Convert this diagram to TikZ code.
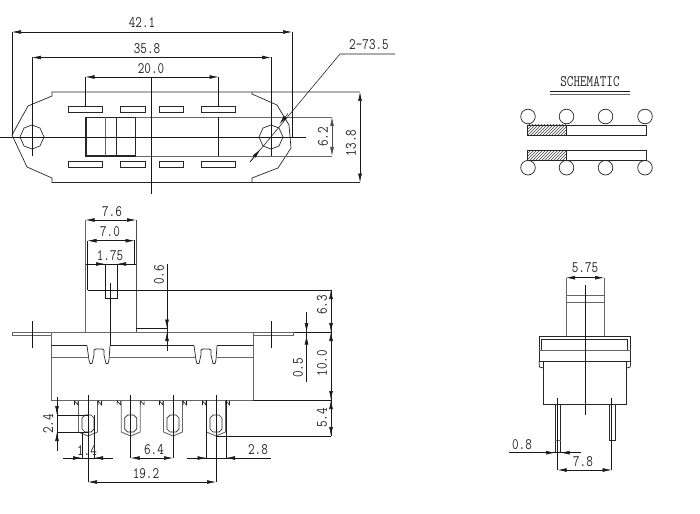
\documentclass[tikz,border=0pt]{standalone}
\usepackage{fontspec}
\usetikzlibrary{arrows.meta,patterns}
\newfontfamily\cadfont[FakeStretch=0.8]{Latin Modern Mono}
\tikzset{
  x=1pt,y=-1pt,
  thinl/.style={draw=black!90,line width=0.55pt},
  bodyl/.style={draw=black!60,line width=0.9pt},
  outl/.style={draw=black!85,line width=0.7pt},
  dimboth/.style={thinl,{Latex[length=9pt,width=3.8pt]}-{Latex[length=9pt,width=3.8pt]}},
  dimtip/.style={thinl,-{Latex[length=9pt,width=3.8pt]}},
  lbl/.style={font=\cadfont\fontsize{16}{16}\selectfont,text=black!85,inner sep=0pt},
  vlbl/.style={lbl,rotate=90},
}
\begin{document}
\begin{tikzpicture}
\useasboundingbox[fill=white] (0,0) rectangle (700,513);
% ---------- TOP VIEW ----------
\draw[outl] (360,92) -- (52,92) -- (52,96) -- (28,106) -- (12,135) -- (27,167) -- (52,178) -- (52,182.5) -- (360,182.5);
\draw[outl] (252,92) -- (252,94) -- (277,105) -- (289,125) -- (291,148) -- (278,168) -- (252,178) -- (252,182.5);
\foreach \xa/\xb in {68.5/102.5,120.5/145,159/183,201.5/235}{
  \draw[outl] (\xa,106.5) rectangle (\xb,112.5);
  \draw[outl] (\xa,161.5) rectangle (\xb,167.5);
}
\foreach \cx in {32,271}{
  \draw[outl] (\cx+12,137) -- (\cx+8,128) -- (\cx,125) -- (\cx-8,128) -- (\cx-12,137) -- (\cx-8,146) -- (\cx,149) -- (\cx+8,146) -- cycle;
}
\draw[bodyl] (135,117) -- (332,117);
\draw[bodyl] (135,156) -- (332,156);
\draw[draw=black!85,line width=1.2pt] (86,117.5) rectangle (135.5,156);
\draw[bodyl] (105,117.5) -- (105,156);
\draw[outl] (116,117.5) -- (116,156);
\draw[thinl] (0,137) -- (306,137);
\draw[thinl] (151.5,77) -- (151.5,194);
\draw[thinl] (12,32) -- (12,135);
\draw[thinl] (292,32) -- (292,137);
\draw[thinl] (32,57.5) -- (32,156);
\draw[thinl] (271,57.5) -- (271,156);
\draw[thinl] (85.5,77) -- (85.5,107);
\draw[thinl] (218.5,77) -- (218.5,107);
\draw[thinl] (218.5,117) -- (218.5,156);
\draw[dimboth] (12,32) -- (292,32);
\draw[dimboth] (32,57.5) -- (271,57.5);
\draw[dimboth] (85.5,77) -- (218.5,77);
\draw[dimboth,draw=black!70] (332,117) -- (332,156);
\draw[dimboth] (360,92) -- (360,182.5);
\draw[thinl] (250,162) -- (340,54) -- (395,54);
\draw[dimtip] (288,113.5) -- (279.5,124);
\draw[dimtip] (250,162) -- (260,149.5);
\node[lbl] (t421) at (142,23) {42.1};
\node[lbl] (t358) at (147,49) {35.8};
\node[lbl] (t200) at (151,69) {20.0};
\node[lbl] (t735) at (369,45) {2-73.5};
\node[vlbl] (t62) at (323,137) {6.2};
\node[vlbl] (t138) at (351,143) {13.8};
% ---------- FRONT VIEW ----------
\draw[bodyl] (51,332) -- (293,332);
\draw[thinl] (293,332) -- (331,332);
\draw[bodyl] (51,335.5) -- (12,335.5) -- (12,332) -- (51,332);
\draw[bodyl] (253,335.5) -- (293,335.5) -- (293,332);
\draw[bodyl] (51,332) -- (51,400) -- (253,400) -- (253,332);
\draw[thinl] (253,400) -- (331,400);
\draw[thinl] (32,321) -- (32,348);
\draw[thinl] (271,321) -- (271,348);
% slider
\draw[thinl] (87.5,240.7) -- (87.5,290);
\draw[bodyl] (85.5,220) -- (85.5,332);
\draw[draw=black!70,line width=1pt] (136,220) -- (136,332);
\draw[thinl] (134.5,240) -- (134.5,264);
\draw[thinl] (105,264) -- (105,298) -- (117,298) -- (117,264);
\draw[thinl] (110,283) -- (110,346);
\draw[thinl] (87.5,290) -- (331,290);
\draw[thinl] (136,328.5) -- (167,328.5);
% notches
\foreach \o/\q in {87/a,194/b}{
  \draw[outl] (\o,345.7) -- (\o+2,360) -- (\o+3,363.5) -- (\o+5,363.5) -- (\o+7,355) -- (\o+7,350) -- (\o+9,349) -- (\o+15,349) -- (\o+17,350) -- (\o+17,355) -- (\o+19,363.5) -- (\o+21,363.5) -- (\o+22,360) -- (\o+23,345.7);
}
\draw[outl] (51,345.7) -- (87,345.7);
\draw[outl] (110,345.7) -- (194,345.7);
\draw[outl] (217,345.7) -- (253,345.7);
\draw[bodyl] (51,357.5) -- (88.5,357.5);
\draw[bodyl] (110,357.5) -- (195.5,357.5);
\draw[bodyl] (216.5,357.5) -- (253,357.5);
% terminals
\foreach \c/\e in {88/482,130.7/458,173/458,216/482}{
  \draw[bodyl] (\c-9.5,400) -- (\c-9.5,432) -- (\c,436) -- (\c+9.5,432) -- (\c+9.5,400);
  \draw[outl] (\c-6,418) -- (\c-3,415) -- (\c+3,415) -- (\c+6,418) -- (\c+6,429) -- (\c+3,432) -- (\c-3,432) -- (\c-6,429) -- cycle;
  \draw[thinl] (\c,395) -- (\c,\e);
  \draw[thinl] (\c-13.5,405) -- (\c-13.5,401) -- (\c-10,405) -- (\c-10,401);
  \draw[thinl] (\c+10,405) -- (\c+10,401) -- (\c+13.5,405) -- (\c+13.5,401);
}
\draw[thinl] (94,415) -- (94,458);
\draw[thinl] (82,432) -- (82,458);
\draw[thinl] (206.5,400) -- (206.5,458);
\draw[thinl] (226,400) -- (226,458);
\draw[thinl] (216,436) -- (331,436);
% dims
\draw[dimboth] (85.5,220) -- (136,220);
\draw[dimboth] (87.5,240.7) -- (134.5,240.7);
\draw[thinl] (86,264) -- (136,264);
\draw[dimtip] (94,264) -- (105,264);
\draw[dimtip] (128,264) -- (117,264);
\draw[thinl] (167,264) -- (167,351);
\draw[dimtip] (167,317) -- (167,328.5);
\draw[dimtip] (167,344) -- (167,332);
\draw[thinl] (306.5,312) -- (306.5,382);
\draw[dimtip] (306.5,321) -- (306.5,332);
\draw[dimtip] (306.5,346) -- (306.5,335.5);
\draw[thinl] (331,290) -- (331,436);
\draw[dimtip] (331,301) -- (331,290);
\draw[dimtip] (331,321) -- (331,332);
\draw[dimtip] (331,343) -- (331,332);
\draw[dimtip] (331,389) -- (331,400);
\draw[dimtip] (331,411) -- (331,400);
\draw[dimtip] (331,425) -- (331,436);
\draw[thinl] (57,397) -- (57,451);
\draw[thinl] (57,415) -- (88,415);
\draw[thinl] (57,432) -- (88,432);
\draw[dimtip] (57,404) -- (57,415);
\draw[dimtip] (57,443) -- (57,432);
\draw[thinl] (63,458) -- (113,458);
\draw[dimtip] (71,458) -- (82,458);
\draw[dimtip] (105,458) -- (94,458);
\draw[dimboth] (130.7,458) -- (173,458);
\draw[thinl] (187,458) -- (271,458);
\draw[dimtip] (195,458) -- (206.5,458);
\draw[dimtip] (238,458) -- (226,458);
\draw[dimboth] (88,482) -- (216,482);
\node[lbl] (t76) at (112,212) {7.6};
\node[lbl] (t70) at (110,232) {7.0};
\node[lbl] (t175) at (110,256) {1.75};
\node[vlbl] (t06) at (159,275) {0.6};
\node[vlbl] (t63) at (322,305) {6.3};
\node[vlbl] (t05) at (298,368) {0.5};
\node[vlbl] (t100) at (322,363) {10.0};
\node[vlbl] (t54) at (322,418) {5.4};
\node[vlbl] (t24) at (48,424) {2.4};
\node[lbl] (t14) at (87,450) {1.4};
\node[lbl] (t64) at (154,450) {6.4};
\node[lbl] (t28) at (258,450) {2.8};
\node[lbl] (t192) at (146,474) {19.2};
% ---------- SCHEMATIC ----------
\node[lbl] (tsch) at (590,82) {SCHEMATIC};
\draw[thinl] (550,91.7) -- (630,91.7);
\draw[bodyl] (550,94.7) -- (630,94.7);
\foreach \cx in {528,566.5,605.5,645}{
  \draw[outl] (\cx,116.5) circle (7.3);
  \draw[outl] (\cx,167.7) circle (7.3);
}
\foreach \ya/\yb in {125/135,150.5/160}{
  \fill[white] (527.5,\ya) rectangle (646,\yb);
  \fill[pattern=north east lines,pattern color=black!75] (527.5,\ya) rectangle (566.5,\yb);
  \draw[outl] (527.5,\ya) rectangle (646,\yb);
  \draw[outl] (566.5,\ya) -- (566.5,\yb);
}
% ---------- SIDE VIEW ----------
\draw[bodyl] (566,277.7) -- (566,336);
\draw[bodyl] (604,277.7) -- (604,336);
\draw[bodyl] (566,295) -- (604,295);
\draw[bodyl] (566,302.3) -- (604,302.3);
\draw[outl] (539,336) rectangle (630.7,361.7);
\draw[outl] (541.7,350) -- (541.7,339.3) -- (627.7,339.3) -- (627.7,350);
\draw[bodyl] (539,350) -- (630.7,350);
\draw[outl] (539,361.7) -- (539.5,367) -- (543.3,368);
\draw[outl] (630.7,361.7) -- (630.2,367) -- (626.7,368);
\draw[outl] (543.3,361.7) rectangle (626.7,404.3);
\draw[thinl] (585,285) -- (585,415);
\draw[outl] (555,404.3) -- (555,452.7);
\draw[outl] (560.7,404.3) -- (560.7,452.7);
\draw[bodyl] (555,440.7) -- (560.7,440.7);
\draw[outl] (609.3,404.3) rectangle (615,440.7);
\draw[thinl] (557.7,398) -- (557.7,470);
\draw[thinl] (611.7,398) -- (611.7,470);
\draw[dimboth] (566,277.7) -- (604,277.7);
\draw[dimboth] (557.7,470) -- (611.7,470);
\draw[thinl] (509,452.7) -- (581,452.7);
\draw[dimtip] (544,452.7) -- (555,452.7);
\draw[dimtip] (572,452.7) -- (560.7,452.7);
\node[lbl] (t575) at (585,268) {5.75};
\node[lbl] (t78) at (583,461.7) {7.8};
\node[lbl] (t08) at (522,445) {0.8};
\end{tikzpicture}
\end{document}
